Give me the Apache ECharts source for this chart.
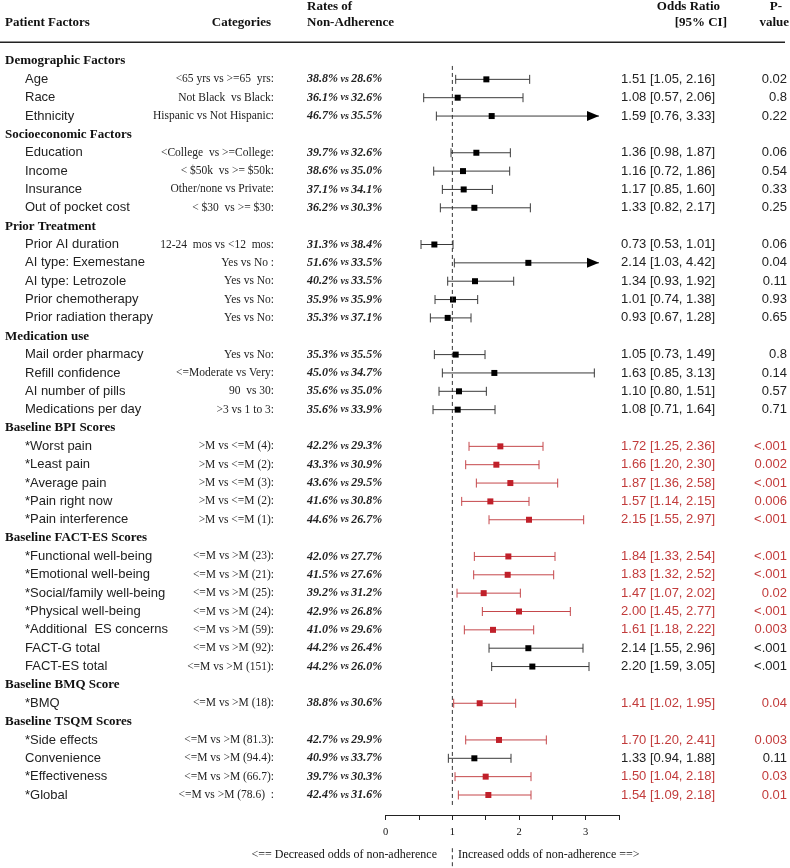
<!DOCTYPE html>
<html>
<head>
<meta charset="utf-8">
<script src="https://cdn.jsdelivr.net/npm/echarts@6/dist/echarts.min.js"></script>
<style>html,body{margin:0;padding:0;background:#fff}#c{width:790px;height:868px}</style>
</head>
<body>
<div id="c"></div>
<script>
// ---------- DATA ----------
const factors = ['Demographic Factors','Age','Race','Ethnicity','Socioeconomic Factors','Education','Income','Insurance','Out of pocket cost','Prior Treatment','Prior AI duration','AI type: Exemestane','AI type: Letrozole','Prior chemotherapy','Prior radiation therapy','Medication use','Mail order pharmacy','Refill confidence','AI number of pills','Medications per day','Baseline BPI Scores','*Worst pain','*Least pain','*Average pain','*Pain right now','*Pain interference','Baseline FACT-ES Scores','*Functional well-being','*Emotional well-being','*Social/family well-being','*Physical well-being','*Additional  ES concerns','FACT-G total','FACT-ES total','Baseline BMQ Score','*BMQ','Baseline TSQM Scores','*Side effects','Convenience','*Effectiveness','*Global'];
const comparisons = ['','<65 yrs vs >=65  yrs:','Not Black  vs Black:','Hispanic vs Not Hispanic:','','<College  vs >=College:','< $50k  vs >= $50k:','Other/none vs Private:','< $30  vs >= $30:','','12-24  mos vs <12  mos:','Yes vs No :','Yes vs No:','Yes vs No:','Yes vs No:','','Yes vs No:','<=Moderate vs Very:','90  vs 30:','>3 vs 1 to 3:','','>M vs <=M (4):','>M vs <=M (2):','>M vs <=M (3):','>M vs <=M (2):','>M vs <=M (1):','','<=M vs >M (23):','<=M vs >M (21):','<=M vs >M (25):','<=M vs >M (24):','<=M vs >M (59):','<=M vs >M (92):','<=M vs >M (151):','','<=M vs >M (18):','','<=M vs >M (81.3):','<=M vs >M (94.4):','<=M vs >M (66.7):','<=M vs >M (78.6)  :'];
const rateA = [null,38.8,36.1,46.7,null,39.7,38.6,37.1,36.2,null,31.3,51.6,40.2,35.9,35.3,null,35.3,45.0,35.6,35.6,null,42.2,43.3,43.6,41.6,44.6,null,42.0,41.5,39.2,42.9,41.0,44.2,44.2,null,38.8,null,42.7,40.9,39.7,42.4];
const rateB = [null,28.6,32.6,35.5,null,32.6,35.0,34.1,30.3,null,38.4,33.5,33.5,35.9,37.1,null,35.5,34.7,35.0,33.9,null,29.3,30.9,29.5,30.8,26.7,null,27.7,27.6,31.2,26.8,29.6,26.4,26.0,null,30.6,null,29.9,33.7,30.3,31.6];
const oddsRatio = [null,1.51,1.08,1.59,null,1.36,1.16,1.17,1.33,null,0.73,2.14,1.34,1.01,0.93,null,1.05,1.63,1.10,1.08,null,1.72,1.66,1.87,1.57,2.15,null,1.84,1.83,1.47,2.00,1.61,2.14,2.20,null,1.41,null,1.70,1.33,1.50,1.54];
const ciLow = [null,1.05,0.57,0.76,null,0.98,0.72,0.85,0.82,null,0.53,1.03,0.93,0.74,0.67,null,0.73,0.85,0.80,0.71,null,1.25,1.20,1.36,1.14,1.55,null,1.33,1.32,1.07,1.45,1.18,1.55,1.59,null,1.02,null,1.20,0.94,1.04,1.09];
const ciHigh = [null,2.16,2.06,3.33,null,1.87,1.86,1.60,2.17,null,1.01,4.42,1.92,1.38,1.28,null,1.49,3.13,1.51,1.64,null,2.36,2.30,2.58,2.15,2.97,null,2.54,2.52,2.02,2.77,2.22,2.96,3.05,null,1.95,null,2.41,1.88,2.18,2.18];
const pValues = ['','0.02','0.8','0.22','','0.06','0.54','0.33','0.25','','0.06','0.04','0.11','0.93','0.65','','0.8','0.14','0.57','0.71','','<.001','0.002','<.001','0.006','<.001','','<.001','<.001','0.02','<.001','0.003','<.001','<.001','','0.04','','0.003','0.11','0.03','0.01'];
const xTicks = [0, 1, 2, 3];
const axisMin = 0, axisMax = 3.5, tickStep = 0.5, arrowAt = 3.2;

// ---------- STYLE ----------
const SERIF = '"Liberation Serif","Times New Roman",serif';
const SANS = '"Liberation Sans",Arial,sans-serif';
const RED_TEXT = '#C23B3B', RED_LINE = '#C5474B', RED_MARK = '#C0202A';
const BLACK_LINE = '#3a3a3a';
const N = factors.length;
const isHeader = factors.map((f, i) => oddsRatio[i] === null);
const isRed = factors.map(f => f.charAt(0) === '*');

const ciData = [];
for (let i = 0; i < N; i++) {
  if (oddsRatio[i] === null) continue;
  ciData.push([i, ciLow[i], ciHigh[i], oddsRatio[i], isRed[i] ? 1 : 0]);
}

const GRID_LEFT = 385.7, GRID_RIGHT_X = 621, ROW0 = 61, ROW_H = 18.35;
const gridTop = ROW0 - ROW_H / 2, gridH = ROW_H * N;

function labelAxis(position, offset, align, formatter, rich) {
  return {
    type: 'category', inverse: true, position: position, offset: offset,
    data: factors.map((f, i) => i),
    axisLine: {show: false}, axisTick: {show: false}, splitLine: {show: false},
    axisLabel: {interval: 0, margin: 0, align: align, formatter: formatter, rich: rich, hideOverlap: false}
  };
}

const option = {
  backgroundColor: '#fff',
  animation: false,
  grid: {left: GRID_LEFT, width: GRID_RIGHT_X - GRID_LEFT, top: gridTop, height: gridH},
  xAxis: {
    type: 'value', min: axisMin, max: axisMax, interval: tickStep,
    position: 'bottom',
    offset: 815 - (gridTop + gridH),
    axisLine: {show: true, onZero: false, lineStyle: {color: '#222', width: 1}},
    axisTick: {show: true, length: 5, lineStyle: {color: '#222'}},
    splitLine: {show: false},
    axisLabel: {margin: 12, color: '#111', fontFamily: SERIF, fontSize: 10.5,
      formatter: v => xTicks.indexOf(v) >= 0 ? String(v) : ''}
  },
  yAxis: [
    {type: 'value', inverse: true, min: -0.5, max: N - 0.5, show: false},
    labelAxis('left', GRID_LEFT - 5, 'left', i => isHeader[i] ? '{h|' + factors[i] + '}' : '{i|' + factors[i] + '}', {
      h: {fontFamily: SERIF, fontWeight: 'bold', fontSize: 13, color: '#111'},
      i: {fontFamily: SANS, fontSize: 13, color: '#222', padding: [0, 0, 0, 20]}
    }),
    labelAxis('left', GRID_LEFT - 274, 'right', i => comparisons[i] ? '{c|' + comparisons[i] + '}' : '', {
      c: {fontFamily: SERIF, fontSize: 11.5, color: '#222'}
    }),
    labelAxis('left', GRID_LEFT - 307, 'left', i => rateA[i] === null ? '' :
      '{n|' + rateA[i].toFixed(1) + '%}{v| vs }{n|' + rateB[i].toFixed(1) + '%}', {
      n: {fontFamily: SERIF, fontStyle: 'italic', fontWeight: 'bold', fontSize: 12, color: '#222'},
      v: {fontFamily: SERIF, fontStyle: 'italic', fontWeight: 'bold', fontSize: 10, color: '#222'}
    }),
    labelAxis('right', 717 - GRID_RIGHT_X, 'right', i => oddsRatio[i] === null ? '' :
      '{' + (isRed[i] ? 'r' : 'k') + '|' + oddsRatio[i].toFixed(2) + ' [' + ciLow[i].toFixed(2) + ', ' + ciHigh[i].toFixed(2) + ']}', {
      r: {fontFamily: SANS, fontSize: 13, color: RED_TEXT},
      k: {fontFamily: SANS, fontSize: 13, color: '#222'}
    }),
    labelAxis('right', 789 - GRID_RIGHT_X, 'right', i => pValues[i] ? '{' + (isRed[i] ? 'r' : 'k') + '|' + pValues[i] + '}' : '', {
      r: {fontFamily: SANS, fontSize: 13, color: RED_TEXT},
      k: {fontFamily: SANS, fontSize: 13, color: '#222'}
    })
  ],
  series: [
    {
      type: 'line', yAxisIndex: 0, symbol: 'none', clip: false, silent: true,
      data: [[1, 0.27], [1, 40.6]],
      lineStyle: {color: '#333', width: 1, type: [4, 3]}
    },
    {
      type: 'line', yAxisIndex: 0, symbol: 'none', clip: false, silent: true,
      data: [[1, 42.9], [1, 43.9]],
      lineStyle: {color: '#333', width: 1, type: [4, 3]}
    },
    {
      type: 'custom', yAxisIndex: 0, clip: false, silent: true,
      data: ciData,
      encode: {x: [1, 2, 3], y: 0},
      renderItem: function (params, api) {
        const row = api.value(0), lo = api.value(1), hi = api.value(2), or = api.value(3), red = api.value(4);
        const lc = red ? RED_LINE : BLACK_LINE;
        const mc = red ? RED_MARK : '#000';
        const pLo = api.coord([lo, row]);
        const clipped = hi > arrowAt;
        const pHi = api.coord([clipped ? arrowAt : hi, row]);
        const pOr = api.coord([or, row]);
        const y = pLo[1];
        const ch = [
          {type: 'line', shape: {x1: pLo[0], y1: y, x2: pHi[0], y2: y}, style: {stroke: lc, lineWidth: 1}},
          {type: 'line', shape: {x1: pLo[0], y1: y - 4.5, x2: pLo[0], y2: y + 4.5}, style: {stroke: lc, lineWidth: 1}}
        ];
        if (clipped) {
          ch.push({type: 'polygon', shape: {points: [[pHi[0] - 12, y - 5], [pHi[0], y], [pHi[0] - 12, y + 5]]}, style: {fill: '#000'}});
        } else {
          ch.push({type: 'line', shape: {x1: pHi[0], y1: y - 4.5, x2: pHi[0], y2: y + 4.5}, style: {stroke: lc, lineWidth: 1}});
        }
        ch.push({type: 'rect', shape: {x: pOr[0] - 3, y: y - 3, width: 6, height: 6}, style: {fill: mc}});
        return {type: 'group', children: ch};
      }
    }
  ],
  graphic: [
    {type: 'text', left: 5, top: 16, style: {text: 'Patient Factors', font: 'bold 13px ' + SERIF, fill: '#111'}},
    {type: 'text', right: 790 - 271, top: 16, style: {text: 'Categories', font: 'bold 13px ' + SERIF, fill: '#111'}},
    {type: 'text', left: 307, top: 0, style: {text: 'Rates of', font: 'bold 13px ' + SERIF, fill: '#111'}},
    {type: 'text', left: 307, top: 16, style: {text: 'Non-Adherence', font: 'bold 13px ' + SERIF, fill: '#111'}},
    {type: 'text', right: 790 - 720, top: 0, style: {text: 'Odds Ratio', font: 'bold 13px ' + SERIF, fill: '#111'}},
    {type: 'text', right: 790 - 727, top: 16, style: {text: '[95% CI]', font: 'bold 13px ' + SERIF, fill: '#111'}},
    {type: 'text', right: 790 - 782, top: 0, style: {text: 'P-', font: 'bold 13px ' + SERIF, fill: '#111'}},
    {type: 'text', right: 790 - 789, top: 16, style: {text: 'value', font: 'bold 13px ' + SERIF, fill: '#111'}},
    {type: 'line', shape: {x1: 0, y1: 42.3, x2: 785, y2: 42.3}, style: {stroke: '#222', lineWidth: 1.5}},
    {type: 'text', right: 790 - 437, top: 849, style: {text: '<== Decreased odds of non-adherence', font: '12px ' + SERIF, fill: '#111'}},
    {type: 'text', left: 458, top: 849, style: {text: 'Increased odds of non-adherence ==>', font: '12px ' + SERIF, fill: '#111'}}
  ]
};

const chart = echarts.init(document.getElementById('c'), null, {renderer: 'canvas'});
chart.setOption(option);
</script>
</body>
</html>
